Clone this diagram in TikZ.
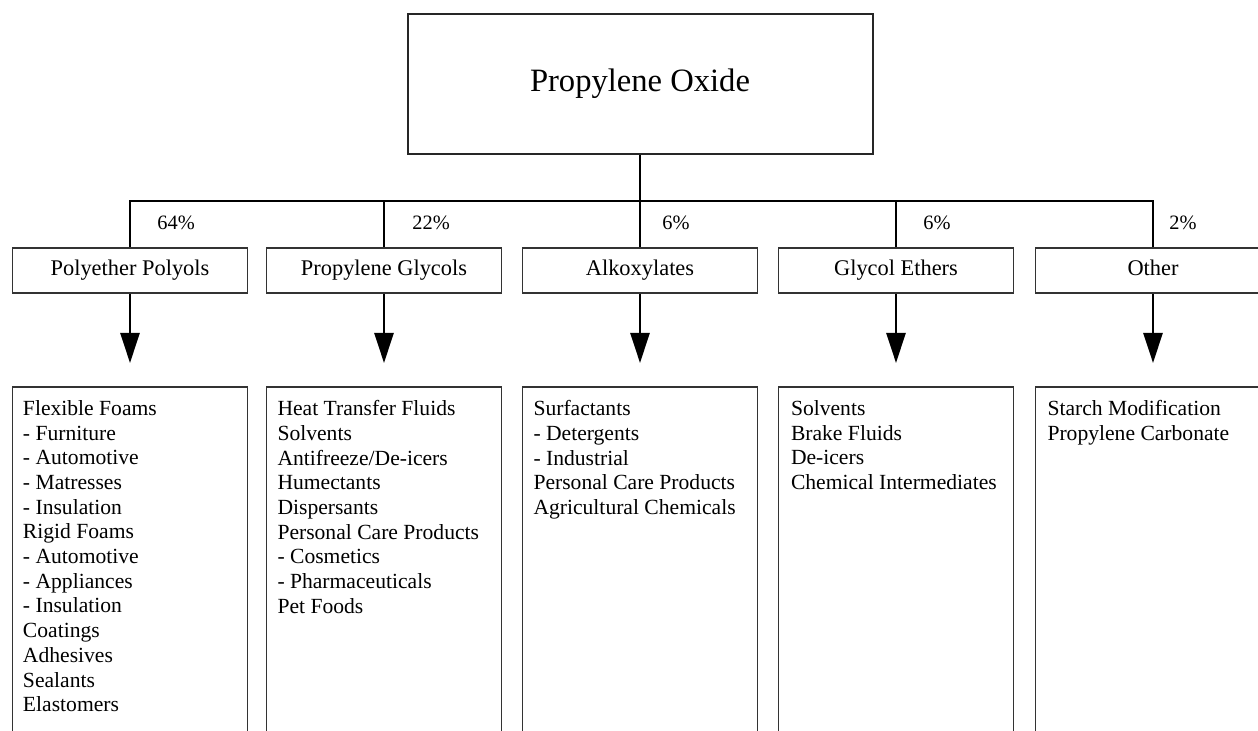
\documentclass[tikz,border=0pt]{standalone}
\usepackage{fontspec}
\setmainfont{Liberation Serif}
\usetikzlibrary{arrows.meta}

\tikzset{
	topbox/.style={draw=black!85, line width=1pt, minimum width=232.5pt, minimum height=70pt, inner sep=0pt, font=\fontsize{16.3}{19}\selectfont},
	catbox/.style={draw=black!80, line width=0.9pt, minimum width=117.5pt, minimum height=22.5pt, inner sep=0pt, text height=0.69em, text depth=0.22em, font=\fontsize{11.2}{13}\selectfont},
	usebox/.style={draw=black!80, line width=0.9pt, minimum width=117.5pt, minimum height=200pt, inner sep=0pt, anchor=north},
	uselist/.style={anchor=north west, inner sep=0pt, align=left, font=\fontsize{10.8}{12.35}\selectfont},
	share/.style={anchor=west, inner sep=0pt, font=\fontsize{10.2}{12}\selectfont},
	link/.style={line width=1.3pt},
	down/.style={line width=1.3pt, -{Triangle[length=15pt,width=9.5pt]}, shorten >=11.5pt},
}

\begin{document}
\begin{tikzpicture}[x=0.5pt, y=-0.5pt]
	\useasboundingbox (0,0) rectangle (1258,731);
	\clip (0,0) rectangle (1258,731);
	% source
	\node[topbox] (PO) at (640,84) {Propylene Oxide};
	% main uses
	\node[catbox] (PP) at (130,270.5) {Polyether Polyols};
	\node[catbox] (PG) at (384,270.5) {Propylene Glycols};
	\node[catbox] (AL) at (640,270.5) {Alkoxylates};
	\node[catbox] (GE) at (896,270.5) {Glycol Ethers};
	\node[catbox] (OT) at (1153,270.5) {Other};
	\coordinate (PPt) at (130,201);
	\coordinate (PGt) at (384,201);
	\coordinate (ALt) at (640,201);
	\coordinate (GEt) at (896,201);
	\coordinate (OTt) at (1153,201);
	\draw[link] (PO.south) -- (ALt) -- (AL.north);
	\draw[link] (PP.north) -- (PPt) -- (OTt) -- (OT.north);
	\draw[link] (PGt) -- (PG.north);
	\draw[link] (GEt) -- (GE.north);
	\node[share] (s1) at (157,223) {64\%};
	\node[share] (s2) at (412,223) {22\%};
	\node[share] (s3) at (662,223) {6\%};
	\node[share] (s4) at (923,223) {6\%};
	\node[share] (s5) at (1169,223) {2\%};
	% end uses
	\node[usebox] (PPu) at (130,386) {};
	\node[usebox] (PGu) at (384,386) {};
	\node[usebox] (ALu) at (640,386) {};
	\node[usebox] (GEu) at (896,386) {};
	\node[usebox] (OTu) at (1153,386) {};
	\draw[down] (PP.south) -- (PPu.north);
	\draw[down] (PG.south) -- (PGu.north);
	\draw[down] (AL.south) -- (ALu.north);
	\draw[down] (GE.south) -- (GEu.north);
	\draw[down] (OT.south) -- (OTu.north);
	\node[uselist] (PPl) at ([xshift=5.5pt,yshift=-7pt]PPu.north west) {Flexible Foams\\- Furniture\\- Automotive\\- Matresses\\- Insulation\\Rigid Foams\\- Automotive\\- Appliances\\- Insulation\\Coatings\\Adhesives\\Sealants\\Elastomers};
	\node[uselist] (PGl) at ([xshift=5.75pt,yshift=-7pt]PGu.north west) {Heat Transfer Fluids\\Solvents\\Antifreeze/De-icers\\Humectants\\Dispersants\\Personal Care Products\\- Cosmetics\\- Pharmaceuticals\\Pet Foods};
	\node[uselist] (ALl) at ([xshift=5.75pt,yshift=-7pt]ALu.north west) {Surfactants\\- Detergents\\- Industrial\\Personal Care Products\\Agricultural Chemicals};
	\node[uselist] (GEl) at ([xshift=6.5pt,yshift=-7pt]GEu.north west) {Solvents\\Brake Fluids\\De-icers\\Chemical Intermediates};
	\node[uselist] (OTl) at ([xshift=6.25pt,yshift=-7pt]OTu.north west) {Starch Modification\\Propylene Carbonate};
\end{tikzpicture}
\end{document}
